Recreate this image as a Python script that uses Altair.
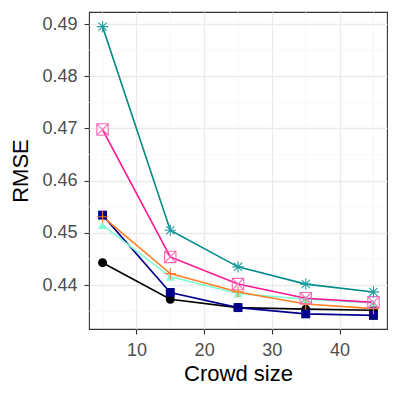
import altair as alt
import pandas as pd

crowd = [5, 15, 25, 35, 45]
series_names = ["black", "navy", "aquamarine", "orange", "pink", "teal"]
vals_black = [0.4443, 0.4373, 0.4357, 0.4354, 0.4352]
vals_navy = [0.4534, 0.4386, 0.4357, 0.4345, 0.4342]
vals_aqua = [0.4515, 0.4416, 0.4384, 0.4373, 0.4366]
vals_orange = [0.4531, 0.4422, 0.4387, 0.4364, 0.4355]
vals_pink = [0.4698, 0.4454, 0.4402, 0.4375, 0.4367]
vals_teal = [0.4895, 0.4505, 0.4435, 0.4402, 0.4387]

colors = ["#000000", "#00008B", "#7FFFD4", "#FF7F24", "#FF1493", "#008B8B"]
point_colors = ["#000000", "#00008B", "#7FFFD4", "#FF7F24", "#FF69B4", "#20A0A0"]
shapes = [
    "circle",
    "square",
    "triangle-up",
    "M-1,0L1,0M0,-1L0,1",
    "M-1,-1L1,-1L1,1L-1,1ZM-1,-1L1,1M-1,1L1,-1",
    "M-1,0L1,0M0,-1L0,1M-0.72,-0.72L0.72,0.72M-0.72,0.72L0.72,-0.72",
]
filled_series = ["black", "navy", "aquamarine"]
open_series = ["orange", "pink", "teal"]

y_ticks = [0.44, 0.45, 0.46, 0.47, 0.48, 0.49]
x_ticks = [10, 20, 30, 40]
y_minor = [0.435, 0.445, 0.455, 0.465, 0.475, 0.485]
x_minor = [5, 15, 25, 35, 45]

rows = []
for name, vals in zip(series_names, [vals_black, vals_navy, vals_aqua, vals_orange, vals_pink, vals_teal]):
    for c, v in zip(crowd, vals):
        rows.append({"series": name, "crowd": c, "rmse": v})
df = pd.DataFrame(rows)

font = "Liberation Sans"
xscale = alt.Scale(domain=[3, 47], nice=False, zero=False)
yscale = alt.Scale(domain=[0.4316, 0.4923], nice=False, zero=False)

xenc = alt.X("crowd:Q", scale=xscale,
             axis=alt.Axis(values=x_ticks, title="Crowd size", grid=True, gridColor="#EBEBEB",
                           gridWidth=1.3, domain=False, tickColor="#333333", tickSize=5,
                           tickWidth=1.1, labelFont=font, labelFontSize=18, labelColor="#4D4D4D",
                           labelPadding=7, titleFont=font, titleFontSize=22, titleFontWeight="normal",
                           titleColor="#000000", titlePadding=4))
yenc = alt.Y("rmse:Q", scale=yscale,
             axis=alt.Axis(values=y_ticks, format=".2f", title="RMSE", grid=True, gridColor="#EBEBEB",
                           gridWidth=1.3, domain=False, tickColor="#333333", tickSize=5,
                           tickWidth=1.1, labelFont=font, labelFontSize=18, labelColor="#4D4D4D",
                           labelPadding=7, titleFont=font, titleFontSize=22, titleFontWeight="normal",
                           titleColor="#000000", titlePadding=9))

color_scale = alt.Scale(domain=series_names, range=colors)
pcolor_scale = alt.Scale(domain=series_names, range=point_colors)
shape_scale = alt.Scale(domain=series_names, range=shapes)

ygrid = alt.Chart(pd.DataFrame({"v": y_minor})).mark_rule(color="#F3F3F3", strokeWidth=0.7).encode(
    y=alt.Y("v:Q", scale=yscale))
xgrid = alt.Chart(pd.DataFrame({"v": x_minor})).mark_rule(color="#F3F3F3", strokeWidth=0.7).encode(
    x=alt.X("v:Q", scale=xscale))

base = alt.Chart(df)
lines = base.mark_line(strokeWidth=1.6).encode(
    x=xenc, y=yenc,
    color=alt.Color("series:N", scale=color_scale, legend=None),
    order=alt.Order("crowd:Q"),
)
pts_filled = base.transform_filter(
    alt.FieldOneOfPredicate(field="series", oneOf=filled_series)
).mark_point(filled=True, size=80, opacity=1).encode(
    x=alt.X("crowd:Q", scale=xscale), y=alt.Y("rmse:Q", scale=yscale),
    color=alt.Color("series:N", scale=pcolor_scale, legend=None),
    shape=alt.Shape("series:N", scale=shape_scale, legend=None),
)
pts_open = base.transform_filter(
    alt.FieldOneOfPredicate(field="series", oneOf=open_series)
).mark_point(filled=False, size=130, strokeWidth=1.1, opacity=1).encode(
    x=alt.X("crowd:Q", scale=xscale), y=alt.Y("rmse:Q", scale=yscale),
    color=alt.Color("series:N", scale=pcolor_scale, legend=None),
    shape=alt.Shape("series:N", scale=shape_scale, legend=None),
)

chart = alt.layer(ygrid, xgrid, lines, pts_filled, pts_open).resolve_scale(
    color="independent"
).properties(
    width=298, height=317,
    autosize=alt.AutoSizeParams(type="none"),
    padding={"left": 81, "top": 4, "right": 4, "bottom": 62},
).configure_view(stroke="#333333", strokeWidth=1.1)

chart.save("out.html", embed_options={"renderer": "svg", "actions": False})
